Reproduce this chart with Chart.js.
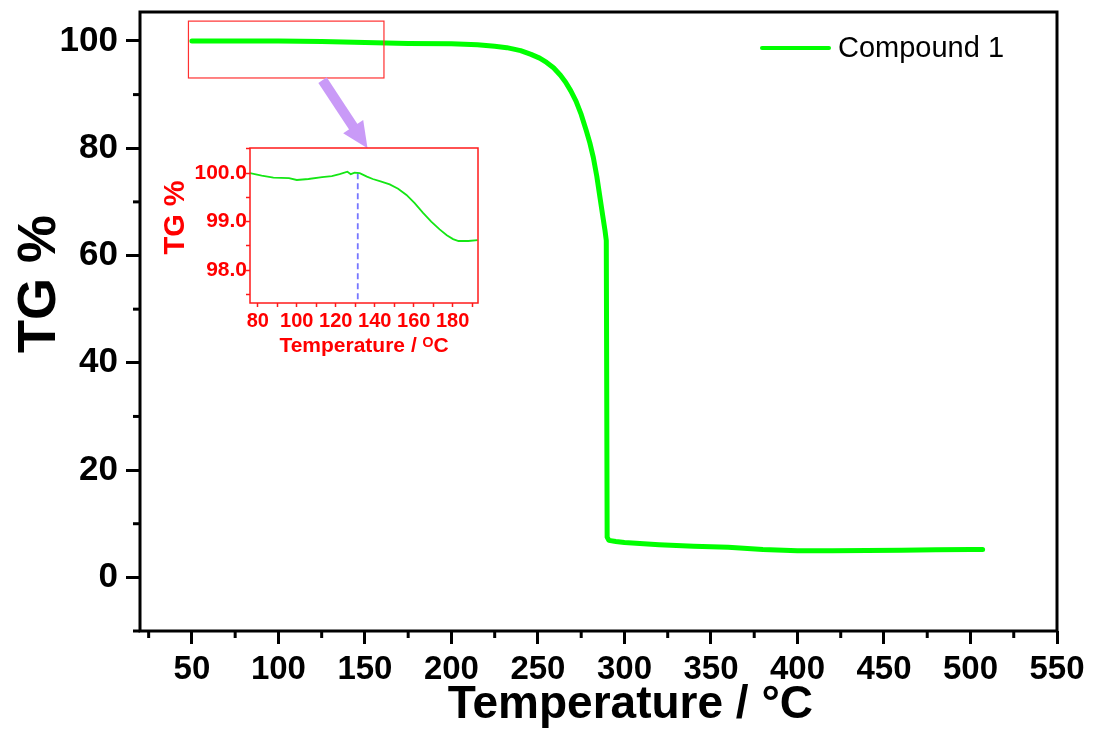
<!DOCTYPE html>
<html>
<head>
<meta charset="utf-8">
<script src="https://cdn.jsdelivr.net/npm/chart.js@4.4.1/dist/chart.umd.min.js"></script>
<style>
  html, body { margin: 0; padding: 0; background: #fff; }
  #wrap { position: relative; width: 1094px; height: 729px; }
  #main { position: absolute; left: 0; top: 0; }
  #inset { position: absolute; left: 150px; top: 130px; }
</style>
</head>
<body>
<div id="wrap">
  <canvas id="main" width="1094" height="729"></canvas>
  <canvas id="inset" width="350" height="240"></canvas>
</div>
<script>
// main TG curve
var temperature = [50, 75, 100, 125, 150, 175, 200, 215, 225, 232, 240, 246, 251, 255, 259, 263, 266, 269, 272, 275, 278, 280, 282, 284, 286, 287.5, 288.7, 289.5, 290, 291, 295, 300, 320, 340, 360, 380, 400, 420, 440, 460, 480, 500, 507];
var tgValues    = [100.0, 100.0, 100.0, 99.9, 99.7, 99.55, 99.5, 99.3, 99.0, 98.75, 98.2, 97.5, 96.8, 96.0, 95.0, 93.6, 92.3, 90.7, 88.8, 86.3, 83.2, 81.0, 78.3, 74.8, 70.5, 67.3, 64.8, 62.8, 7.5, 6.9, 6.7, 6.5, 6.1, 5.8, 5.6, 5.2, 4.95, 4.95, 5.0, 5.05, 5.15, 5.2, 5.2];

// inset (zoomed 76-193 C)
var insetTemp = [76, 82, 88, 96, 100, 106, 113, 118, 122, 126, 127.7, 129.7, 132.3, 136, 139, 143, 147.7, 152, 156.3, 160.5, 164.8, 169, 173.3, 177, 180.2, 183, 185.3, 188, 192.8];
var insetTg   = [100.0, 99.95, 99.91, 99.9, 99.86, 99.88, 99.92, 99.94, 99.98, 100.03, 99.98, 100.01, 100.0, 99.93, 99.88, 99.83, 99.77, 99.68, 99.55, 99.38, 99.18, 99.0, 98.84, 98.72, 98.64, 98.6, 98.6, 98.6, 98.62];
var markerTemp = 131.3;

var xTicksMain = { min: 20, max: 550, step: 25, label: 50 };
var yTicksMain = { min: -10, max: 105.4, step: 10, label: 20 };
var insetX = { min: 76, max: 193, step: 10, label: 20 };
var insetY = { min: 97.32, max: 100.52, step: 0.5 };

var ARIAL = '"Liberation Sans", Arial, sans-serif';

function pts(xs, ys) {
  return xs.map(function (x, i) { return { x: x, y: ys[i] }; });
}

var mainDecor = {
  id: 'mainDecor',
  afterDraw: function (chart) {
    var c = chart.ctx, a = chart.chartArea, sx = chart.scales.x, sy = chart.scales.y;
    c.save();
    c.strokeStyle = '#000';
    c.lineWidth = 3;
    // minor ticks
    sx.ticks.forEach(function (t) {
      if (t.value % xTicksMain.label !== 0) {
        var px = sx.getPixelForValue(t.value);
        c.beginPath(); c.moveTo(px, a.bottom); c.lineTo(px, a.bottom + 7); c.stroke();
      }
    });
    sy.ticks.forEach(function (t) {
      if (t.value % yTicksMain.label !== 0) {
        var py = sy.getPixelForValue(t.value);
        c.beginPath(); c.moveTo(a.left, py); c.lineTo(a.left - 7, py); c.stroke();
      }
    });
    // frame
    c.strokeRect(a.left, a.top, a.right - a.left, a.bottom - a.top);

    // zoom box
    var x0 = sx.getPixelForValue(48), x1 = sx.getPixelForValue(161);
    var y0 = sy.getPixelForValue(103.7), y1 = sy.getPixelForValue(93.1);
    c.strokeStyle = '#ff3030';
    c.lineWidth = 1.2;
    c.strokeRect(x0, y0, x1 - x0, y1 - y0);

    // arrow
    var ax = sx.getPixelForValue(125.5), ay = sy.getPixelForValue(92.7);
    var tx = sx.getPixelForValue(151.5), ty = sy.getPixelForValue(80);
    var dx = tx - ax, dy = ty - ay, len = Math.sqrt(dx * dx + dy * dy);
    var ux = dx / len, uy = dy / len, head = 26, half = 12;
    var bx = tx - ux * head, by = ty - uy * head;
    c.strokeStyle = '#c99af7';
    c.fillStyle = '#c99af7';
    c.lineWidth = 10;
    c.beginPath(); c.moveTo(ax, ay); c.lineTo(bx + ux, by + uy); c.stroke();
    c.beginPath();
    c.moveTo(tx, ty);
    c.lineTo(bx - uy * half, by + ux * half);
    c.lineTo(bx + uy * half, by - ux * half);
    c.closePath(); c.fill();

    // legend
    var ds = chart.data.datasets[0];
    var ly = a.top + 36;
    c.strokeStyle = ds.borderColor;
    c.lineWidth = 4;
    c.lineCap = 'round';
    c.beginPath(); c.moveTo(a.right - 295, ly); c.lineTo(a.right - 228, ly); c.stroke();
    c.fillStyle = '#000';
    c.font = '29px ' + ARIAL;
    c.textBaseline = 'middle';
    c.fillText(ds.label, a.right - 219, ly + 1);
    c.restore();
  }
};

new Chart(document.getElementById('main'), {
  type: 'line',
  data: {
    datasets: [{
      label: 'Compound 1',
      data: pts(temperature, tgValues),
      borderColor: '#00ff00',
      borderWidth: 5,
      pointRadius: 0,
      tension: 0,
      borderCapStyle: 'round',
      borderJoinStyle: 'round',
      fill: false
    }]
  },
  options: {
    responsive: false,
    animation: false,
    devicePixelRatio: 1,
    layout: { padding: { left: 0, right: 37, top: 12, bottom: 0 } },
    plugins: { legend: { display: false }, tooltip: { enabled: false } },
    scales: {
      x: {
        type: 'linear',
        min: xTicksMain.min, max: xTicksMain.max,
        ticks: {
          stepSize: xTicksMain.step, includeBounds: false, autoSkip: false, maxRotation: 0,
          color: '#000', padding: 6,
          font: { family: ARIAL, size: 33, weight: 'bold' },
          callback: function (v) { return v % xTicksMain.label === 0 ? v : ''; }
        },
        grid: {
          drawOnChartArea: false, drawTicks: true, tickLength: 13, tickWidth: 3,
          tickColor: function (ctx) { return ctx.tick && ctx.tick.value % xTicksMain.label === 0 ? '#000' : 'rgba(0,0,0,0)'; }
        },
        border: { display: false },
        title: {
          display: true, text: '     Temperature / °C', color: '#000',
          font: { family: ARIAL, size: 46, weight: 'bold', lineHeight: 1 },
          padding: { top: 0, bottom: 1 }
        },
        afterFit: function (s) { s.height = 98; s.paddingLeft = 0; s.paddingRight = 0; }
      },
      y: {
        min: yTicksMain.min, max: yTicksMain.max,
        ticks: {
          stepSize: yTicksMain.step, includeBounds: false, autoSkip: false,
          color: '#000', padding: 8,
          font: { family: ARIAL, size: 35, weight: 'bold' },
          callback: function (v) { return v % yTicksMain.label === 0 ? v : ''; }
        },
        grid: {
          drawOnChartArea: false, drawTicks: true, tickLength: 14, tickWidth: 3,
          tickColor: function (ctx) { return ctx.tick && ctx.tick.value % yTicksMain.label === 0 ? '#000' : 'rgba(0,0,0,0)'; }
        },
        border: { display: false },
        title: {
          display: true, text: '     TG %', color: '#000',
          font: { family: ARIAL, size: 54, weight: 'bold', lineHeight: 1 },
          padding: { top: 13, bottom: 0 }
        },
        afterFit: function (s) { s.width = 140; s.paddingTop = 0; s.paddingBottom = 0; }
      }
    }
  },
  plugins: [mainDecor]
});

// inset
var insetFrame = {
  id: 'insetFrame',
  afterDraw: function (chart) {
    var c = chart.ctx, a = chart.chartArea;
    c.save();
    c.strokeStyle = '#ff1a1a';
    c.lineWidth = 1.5;
    c.strokeRect(a.left, a.top, a.right - a.left, a.bottom - a.top);
    c.restore();
  }
};

new Chart(document.getElementById('inset'), {
  type: 'line',
  data: {
    datasets: [{
      data: pts(insetTemp, insetTg),
      borderColor: '#14e614',
      borderWidth: 1.8,
      pointRadius: 0,
      tension: 0,
      fill: false
    }, {
      data: pts([markerTemp, markerTemp], [100.0, insetY.min]),
      borderColor: '#7676ff',
      borderWidth: 1.8,
      borderDash: [6, 4],
      pointRadius: 0,
      fill: false
    }]
  },
  options: {
    responsive: false,
    animation: false,
    devicePixelRatio: 1,
    layout: { padding: { left: 0, right: 22, top: 18, bottom: 0 } },
    plugins: { legend: { display: false }, tooltip: { enabled: false } },
    scales: {
      x: {
        type: 'linear',
        min: insetX.min, max: insetX.max,
        ticks: {
          stepSize: insetX.step, includeBounds: false, autoSkip: false, maxRotation: 0,
          color: '#ff0000', padding: 2,
          font: { family: ARIAL, size: 20, weight: 'bold' },
          callback: function (v) { return v % insetX.label === 0 ? v : ''; }
        },
        grid: { drawOnChartArea: false, drawTicks: true, tickLength: 4, tickWidth: 1.5, tickColor: '#ff1a1a' },
        border: { display: false },
        title: {
          display: true, text: 'Temperature / ᴼC', color: '#ff0000',
          font: { family: ARIAL, size: 21, weight: 'bold', lineHeight: 1 },
          padding: { top: 0, bottom: 13 }
        },
        afterFit: function (s) { s.height = 67; s.paddingLeft = 0; s.paddingRight = 0; }
      },
      y: {
        min: insetY.min, max: insetY.max,
        ticks: {
          stepSize: insetY.step, includeBounds: false, autoSkip: false,
          color: '#ff0000', padding: -1,
          font: { family: ARIAL, size: 21, weight: 'bold' },
          callback: function (v) { return Math.abs(v - Math.round(v)) < 1e-6 ? v.toFixed(1) : ''; }
        },
        grid: { drawOnChartArea: false, drawTicks: true, tickLength: 4, tickWidth: 1.5, tickColor: '#ff1a1a' },
        border: { display: false },
        title: {
          display: true, text: '  TG %', color: '#ff0000',
          font: { family: ARIAL, size: 29, weight: 'bold', lineHeight: 1 },
          padding: { top: 11, bottom: 0 }
        },
        afterFit: function (s) { s.width = 100; s.paddingTop = 0; s.paddingBottom = 0; }
      }
    }
  },
  plugins: [insetFrame]
});
</script>
</body>
</html>
